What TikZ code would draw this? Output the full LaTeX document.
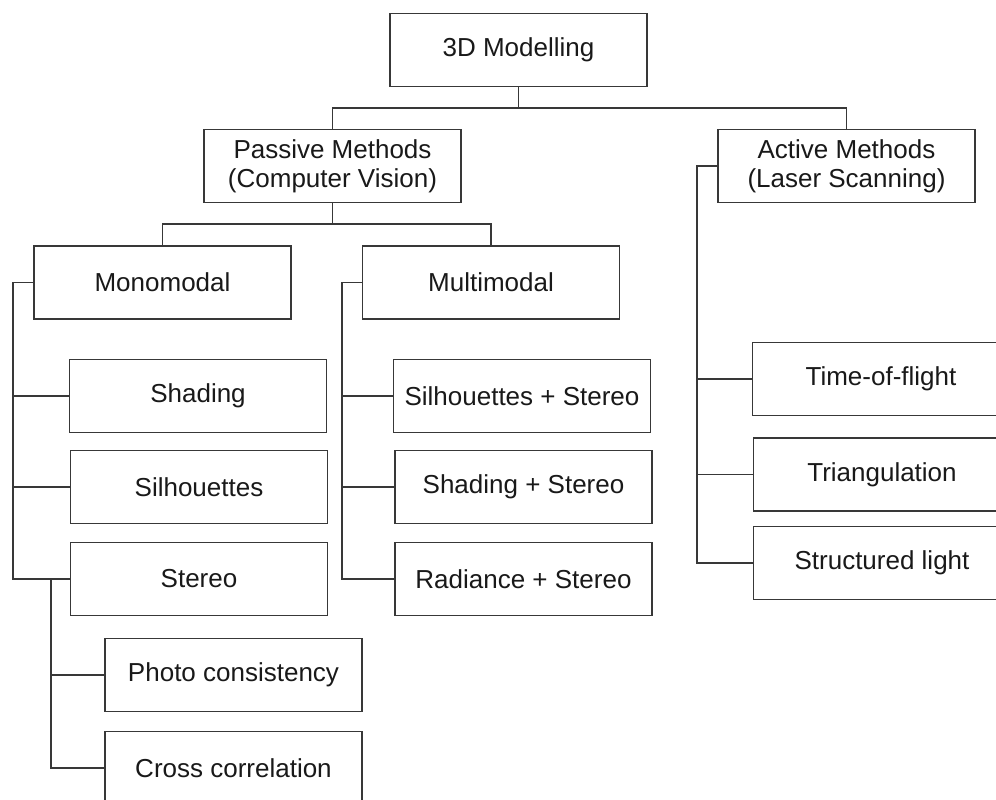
\documentclass[tikz,border=0pt]{standalone}
\usepackage{fontspec}
\setmainfont{Liberation Sans}
\begin{document}
\begin{tikzpicture}[x=1pt,y=-1pt,
  box/.style={draw=black!78, line width=1.3pt, minimum width=257pt, minimum height=73pt,
    inner sep=0pt, align=center, text=black!90, font=\fontsize{26}{29}\selectfont},
  conn/.style={draw=black!78, line width=1.3pt}]
\useasboundingbox (0,0) rectangle (996,800);
\clip (0,0) rectangle (996,800);
\fill[white] (0,0) rectangle (996,800);
% nodes
\node[box] (top) at (518.5,50) {3D Modelling};
\node[box] (passive) at (332.5,166) {Passive Methods\\(Computer Vision)};
\node[box] (active) at (846.5,166) {Active Methods\\(Laser Scanning)};
\node[box] (mono) at (162.5,282.5) {Monomodal};
\node[box] (multi) at (491,282.5) {Multimodal};
\node[box] (shading) at (198,396) {Shading};
\node[box] (silh) at (199,487) {Silhouettes};
\node[box] (stereo) at (199,579) {Stereo};
\node[box] (photo) at (233.5,675) {Photo consistency};
\node[box] (cross) at (233.5,768) {Cross correlation};
\node[box] (ss) at (522,396) {Silhouettes + Stereo};
\node[box] (shs) at (523.5,487) {Shading + Stereo};
\node[box] (rs) at (523.5,579) {Radiance + Stereo};
\node[box] (tof) at (881,379) {Time-of-flight};
\node[box] (tri) at (882,474.5) {Triangulation};
\node[box] (sl) at (882,563) {Structured light};
% junctions
\coordinate (j1) at (518.5,108);
\coordinate (j2) at (332.5,224);
\coordinate (ms) at (13,0);
\coordinate (ms2) at (51,0);
\coordinate (mu) at (342,0);
\coordinate (ac) at (697,0);
% connectors
\draw[conn] (top.south) -- (j1);
\draw[conn] (passive.north) |- (j1) -| (active.north);
\draw[conn] (passive.south) -- (j2);
\draw[conn] (mono.north) |- (j2) -| (multi.north);
% monomodal
\draw[conn] (mono.west) -| (ms |- stereo.west) -- (stereo.west);
\draw[conn] (shading.west) -- (ms |- shading.west);
\draw[conn] (silh.west) -- (ms |- silh.west);
% stereo sub
\draw[conn] (ms2 |- stereo.west) |- (cross.west);
\draw[conn] (photo.west) -- (ms2 |- photo.west);
% multimodal
\draw[conn] (multi.west) -| (mu |- rs.west) -- (rs.west);
\draw[conn] (ss.west) -- (mu |- ss.west);
\draw[conn] (shs.west) -- (mu |- shs.west);
% active
\draw[conn] (active.west) -| (ac |- sl.west) -- (sl.west);
\draw[conn] (tof.west) -- (ac |- tof.west);
\draw[conn] (tri.west) -- (ac |- tri.west);
\end{tikzpicture}
\end{document}
